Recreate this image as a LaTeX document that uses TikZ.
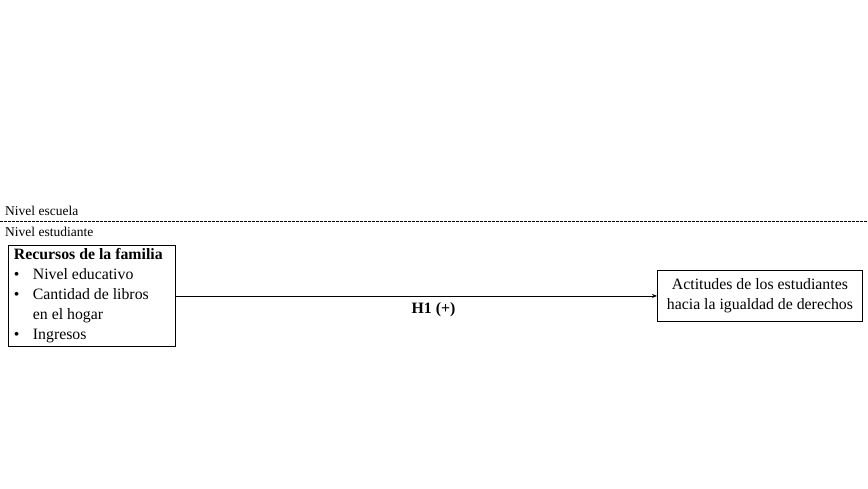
\documentclass[tikz,border=0pt]{standalone}
\usepackage{fontspec}
\setmainfont{Liberation Serif}
\usetikzlibrary{arrows.meta,positioning}

\begin{document}
\begin{tikzpicture}[
  x=1pt,y=-1pt,
  font=\fontsize{15.8}{20}\selectfont,
  bx/.style ={draw,line width=0.9pt,inner sep=0pt,fill=white},
  lv/.style ={font=\fontsize{13.5}{15}\selectfont,inner sep=0pt,anchor=west},
  ar/.style ={-{Stealth[length=5pt,width=4pt]},line width=0.8pt},
  bl/.style ={inner sep=0pt}
]
\useasboundingbox (0,0) rectangle (868,489);

% ======== levels
\node[lv] (esc) at (5,211) {Nivel escuela};
\node[lv] (est) at (5,232) {Nivel estudiante};
\coordinate (d0) at (0,221);
\coordinate (d1) at (868,221);
\draw[dashed,dash pattern=on 2.5pt off 1.5pt,line width=0.7pt] (d0) -- (d1);

% ======== boxes
\node[bx,minimum width=167,minimum height=101,anchor=north west,
      text width=156,inner xsep=5.5pt,align=flush left] (fam) at (8,245)
  {\mbox{\textbf{Recursos de la familia}}\\
   \makebox[19pt][l]{\textbullet}Nivel educativo\\
   \makebox[19pt][l]{\textbullet}Cantidad de libros\\
   \makebox[19pt][l]{}en el hogar\\
   \makebox[19pt][l]{\textbullet}Ingresos};
\node[bx,minimum width=205,minimum height=51,anchor=north west,
      align=center] (act) at (657,270)
  {Actitudes de los estudiantes\\hacia la igualdad de derechos};

% ======== hypothesis
\draw[ar] (fam.east |- act.west) -- (act.west)
  node[bl,midway,below=6pt,xshift=17pt] {\textbf{H1 (+)}};
\end{tikzpicture}
\end{document}
